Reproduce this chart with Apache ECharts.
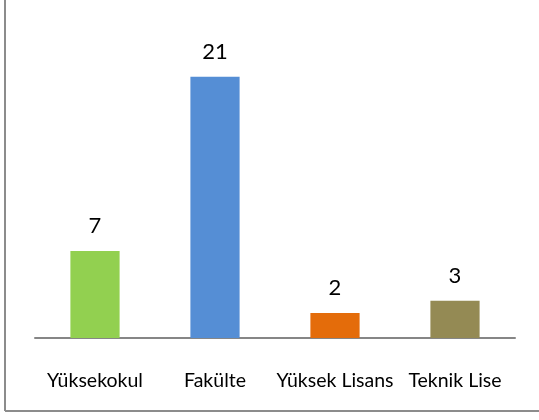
<!DOCTYPE html>
<html lang="tr">
<head>
    <meta charset="UTF-8">
    <title>Okul türü</title>
    <script src="https://cdn.jsdelivr.net/npm/echarts@6/dist/echarts.min.js"></script>
    <style>
        html, body { margin: 0; padding: 0; background: #fff; }
    </style>
</head>
<body>
<div id="main" style="width: 539px;height:420px;"></div>
<script type="text/javascript">
    // veriler
    var categories = ['Yüksekokul', 'Fakülte', 'Yüksek Lisans', 'Teknik Lise'];
    var values = [7, 21, 2, 3];
    var colors = ['#92d050', '#558ed5', '#e46c0a', '#948a54'];

    var myChart = echarts.init(document.getElementById('main'));

    var barData = values.map(function (v, i) {
        return {value: v, itemStyle: {color: colors[i]}};
    });

    myChart.setOption({
        animation: false,
        textStyle: {fontFamily: 'Lato'},
        grid: {left: 35, right: 24, top: 27, bottom: 82},
        xAxis: {
            type: 'category',
            data: categories,
            axisTick: {show: false},
            axisLine: {lineStyle: {color: '#868686', width: 2}},
            axisLabel: {color: '#000', fontSize: 19.5, margin: 33, interval: 0, fontFamily: 'Lato'}
        },
        yAxis: {
            type: 'value',
            min: 0,
            max: 25,
            show: false
        },
        series: [{
            type: 'bar',
            data: barData,
            barWidth: '41%',
            label: {
                show: true,
                position: 'top',
                distance: 14,
                color: '#000',
                fontSize: 22,
                fontFamily: 'Lato'
            }
        }],
        graphic: [
            // çerçeve (sol ve alt kenar)
            {type: 'line', shape: {x1: 5, y1: 0, x2: 5, y2: 411}, style: {stroke: '#8c8c8c', lineWidth: 2}},
            {type: 'line', shape: {x1: 5, y1: 411, x2: 539, y2: 411}, style: {stroke: '#8c8c8c', lineWidth: 2}}
        ]
    });
</script>
</body>
</html>
